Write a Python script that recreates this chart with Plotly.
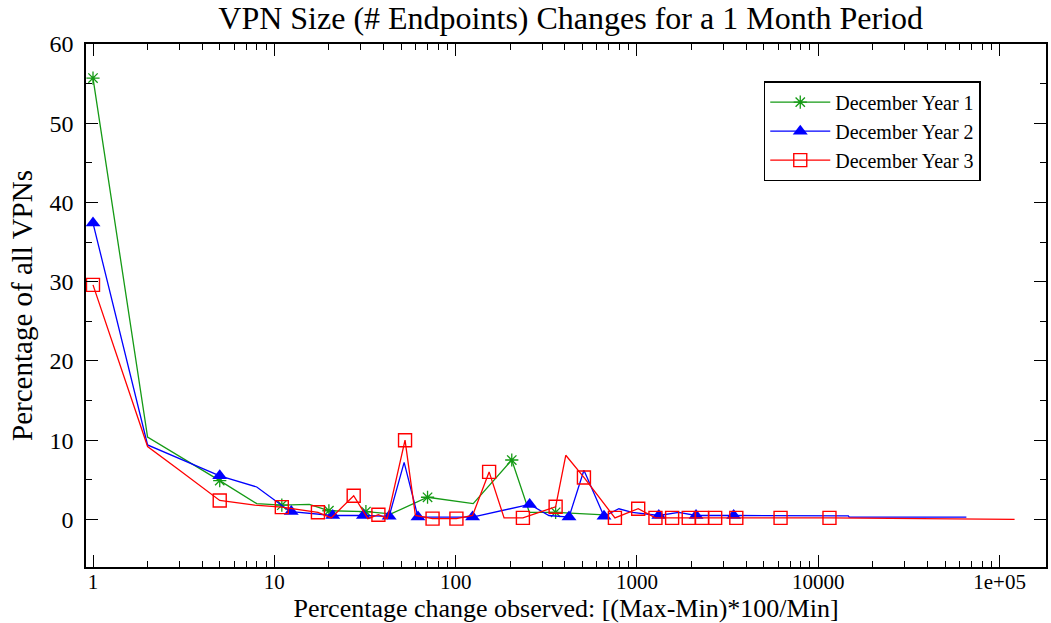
import plotly.graph_objects as go

# ---- data ----
y1_x = [1, 2, 5, 8, 11, 15.6, 20, 32, 44, 70, 125, 204, 255, 356, 620, 650]
y1_y = [55.7, 10.4, 4.9, 2.0, 1.8, 1.9, 1.1, 1.0, 0.7, 2.8, 2.0, 7.5, 0.9, 0.9, 0.6, 0.5]
y1_mark_x = [1, 5, 11, 20, 32, 70, 204, 356]
y1_mark_y = [55.7, 4.9, 1.8, 1.1, 1.0, 2.8, 7.5, 0.9]

y2_x = [1, 2, 5, 8, 11.4, 12.4, 21, 31, 43, 52, 62, 124, 256, 327, 422, 510, 658, 795,
        942, 1320, 1700, 2118, 3415, 14660, 14800, 65600]
y2_y = [37.4, 9.4, 5.5, 4.1, 1.5, 1.0, 0.5, 0.5, 0.4, 7.2, 0.3, 0.3, 1.9, 0.5, 0.3, 6.2, 0.4, 1.35,
        0.9, 0.5, 0.9, 0.5, 0.5, 0.45, 0.3, 0.3]
y2_mark_x = [1, 5, 12.4, 21, 31, 43, 62, 124, 256, 422, 658, 1320, 2118, 3415]
y2_mark_y = [37.4, 5.5, 1.0, 0.5, 0.5, 0.4, 0.3, 0.3, 1.9, 0.3, 0.4, 0.5, 0.5, 0.5]

y3_x = [1, 2, 3, 4, 5, 7.8, 11, 17.4, 20.6, 27.4, 32.8, 37.5, 42, 52.6, 60, 74.6, 101, 124,
        153, 185, 235, 356, 405, 510, 756, 1016, 1265, 1563, 1930, 2285, 2700, 3532, 6195,
        11530, 37000, 121000]
y3_y = [29.6, 9.2, 6.2, 4.0, 2.4, 1.8, 1.55, 0.9, 0.2, 3.0, 0.1, 0.6, 0.1, 10.0, 0.5, 0.1, 0.1, 0.5,
        6.0, 0.2, 0.2, 1.6, 8.1, 5.3, 0.2, 1.35, 0.2, 0.2, 0.2, 0.2, 0.2, 0.2, 0.2,
        0.2, 0.1, 0.0]
y3_mark_x = [1, 5, 11, 17.4, 27.4, 37.5, 52.6, 74.6, 101, 153, 235, 356, 510, 756, 1016,
             1265, 1563, 1930, 2285, 2700, 3532, 6195, 11530]
y3_mark_y = [29.6, 2.4, 1.55, 0.9, 3.0, 0.6, 10.0, 0.1, 0.1, 6.0, 0.2, 1.6, 5.3, 0.2, 1.35,
             0.2, 0.2, 0.2, 0.2, 0.2, 0.2, 0.2, 0.2]

names = ["December Year 1", "December Year 2", "December Year 3"]
x_tickvals = [1, 10, 100, 1000, 10000, 100000]
x_ticktext = ["1", "10", "100", "1000", "10000", "1e+05"]
y_tickvals = [0, 10, 20, 30, 40, 50, 60]

FONT = "Liberation Serif"
GREEN, BLUE, RED = "#159a15", "#0000ff", "#ff0000"
series = [
    (y1_x, y1_y, y1_mark_x, y1_mark_y, GREEN,
     dict(symbol="asterisk-open", size=11, color=GREEN, line=dict(width=1.3, color=GREEN))),
    (y2_x, y2_y, y2_mark_x, y2_mark_y, BLUE,
     dict(symbol="triangle-up", size=13, color=BLUE, line=dict(width=0))),
    (y3_x, y3_y, y3_mark_x, y3_mark_y, RED,
     dict(symbol="square-open", size=13, color=RED, line=dict(width=1.4, color=RED))),
]

fig = go.Figure()
for i, (lx, ly, mx, my, col, mk) in enumerate(series):
    fig.add_trace(go.Scatter(x=lx, y=ly, mode="lines", line=dict(color=col, width=1.3),
                             showlegend=False, hoverinfo="skip"))
    fig.add_trace(go.Scatter(x=mx, y=my, mode="markers", marker=mk, showlegend=False))
    fig.add_trace(go.Scatter(x=[None], y=[None], mode="lines+markers", name=names[i],
                             line=dict(color=col, width=1.3), marker=mk))

minor_vals = [m * 10 ** k for k in range(-1, 6) for m in range(2, 10)]

fig.update_layout(
    width=1051, height=623,
    paper_bgcolor="white", plot_bgcolor="white",
    margin=dict(l=86, r=3, t=44, b=56),
    font=dict(family=FONT, color="black", size=22),
    title=dict(text="VPN Size (# Endpoints) Changes for a 1 Month Period",
               x=0.543, xanchor="center", y=0.972, yanchor="middle",
               font=dict(family=FONT, size=32, color="black")),
    legend=dict(x=0.706, y=0.929, xanchor="left", yanchor="top",
                bgcolor="white", bordercolor="black", borderwidth=1.5,
                font=dict(family=FONT, size=20), tracegroupgap=0, itemwidth=60),
    xaxis=dict(type="log", range=[-0.0386, 5.256],
               tickvals=x_tickvals, ticktext=x_ticktext,
               ticks="inside", ticklen=12, tickwidth=1.3, tickcolor="black",
               minor=dict(tickvals=minor_vals, ticks="inside", ticklen=6, tickwidth=1, tickcolor="black"),
               showline=True, linecolor="black", linewidth=1.5, mirror="allticks",
               showgrid=False, zeroline=False,
               tickfont=dict(family=FONT, size=21), ticklabelstandoff=-5,
               title=dict(text="Percentage change observed: [(Max-Min)*100/Min]",
                          font=dict(family=FONT, size=26), standoff=8)),
    yaxis=dict(range=[-6, 60], tickvals=y_tickvals,
               ticks="inside", ticklen=12, tickwidth=1.3, tickcolor="black",
               minor=dict(tickvals=[5, 15, 25, 35, 45, 55], ticks="inside", ticklen=6, tickwidth=1, tickcolor="black"),
               showline=True, linecolor="black", linewidth=1.5, mirror="allticks",
               showgrid=False, zeroline=False,
               tickfont=dict(family=FONT, size=24), ticklabelstandoff=6,
               title=dict(text="Percentage of all VPNs", font=dict(family=FONT, size=29), standoff=8)),
)

fig.write_html("out.html", config={"displayModeBar": False},
               post_script="document.body.style.margin='0px';document.body.style.overflow='hidden';")
